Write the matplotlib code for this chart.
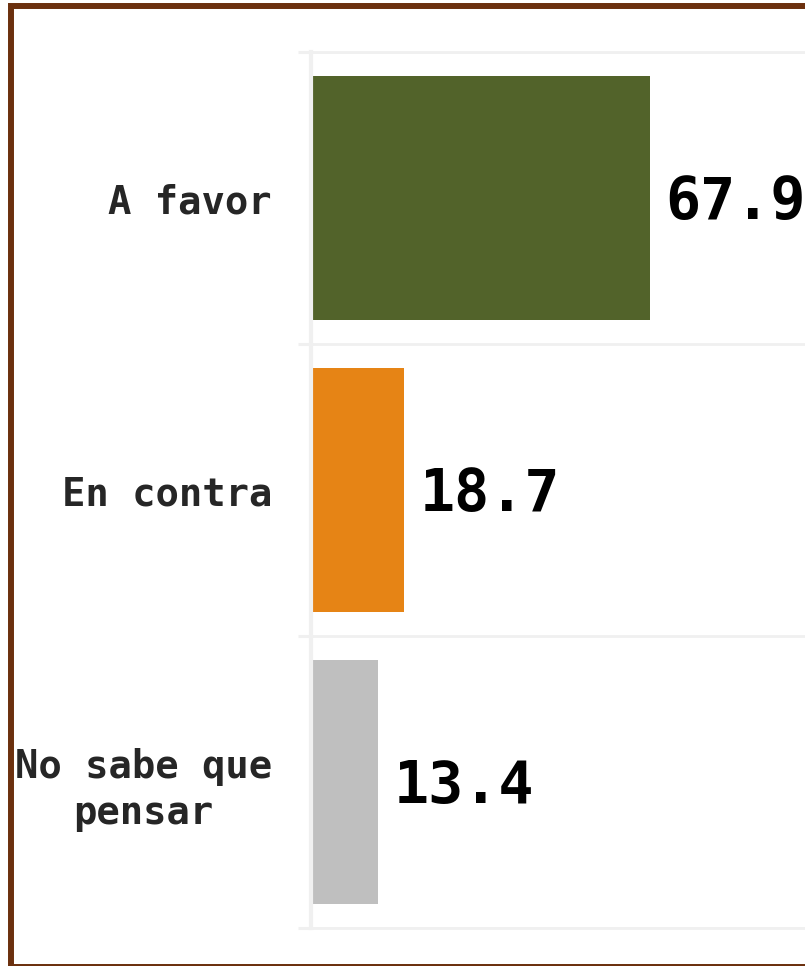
import matplotlib.pyplot as plt
from matplotlib.patches import Rectangle
import numpy as np

categories = ["A favor", "En contra", "No sabe que\npensar"]
values = [67.9, 18.7, 13.4]
bar_colors = ["#52632a", "#e68415", "#bfbfbf"]

W, H = 805, 966
fig = plt.figure(figsize=(W / 100, H / 100), dpi=100)
fig.patch.set_facecolor("white")

# brown frame, right side runs off the canvas like the original crop
fig.patches.append(Rectangle((10.5 / W, 1 - 966.5 / H), 820 / W, (966.5 - 5.5) / H,
                             transform=fig.transFigure, fill=False,
                             edgecolor="#6b300e", linewidth=4.3, zorder=0))

ax = fig.add_axes([311 / W, 38 / H, 499 / W, 876 / H])
ypos = np.arange(len(categories))
ax.barh(ypos, values, height=0.835, color=bar_colors, zorder=2)
ax.set_xlim(0, 100)
ax.set_ylim(len(categories) - 0.5, -0.5)

grid_col = "#f0f0f0"
for side in ["top", "bottom", "left"]:
    ax.spines[side].set_color(grid_col)
    ax.spines[side].set_linewidth(2)
ax.spines["left"].set_linewidth(3)
ax.spines["left"].set_zorder(3)
ax.spines["right"].set_visible(False)

ax.set_xticks([])
ax.set_yticks(ypos)
ax.set_yticklabels(categories, family="DejaVu Sans Mono", fontweight="bold",
                   fontsize=28, color="#262626", multialignment="center",
                   linespacing=1.25)
ax.tick_params(axis="y", which="major", length=0, pad=28)
ax.set_yticks(np.arange(-0.5, len(categories), 1.0), minor=True)
ax.tick_params(axis="y", which="minor", length=9.5, width=2.2, color=grid_col)
ax.grid(axis="y", which="minor", color=grid_col, linewidth=2, zorder=1)

for y, v in zip(ypos, values):
    ax.annotate(f"{v:.1f}", xy=(v, y), xytext=(11, -3), textcoords="offset points",
                va="center", ha="left", family="DejaVu Sans Mono",
                fontweight="bold", fontsize=42, color="black", annotation_clip=False)

fig.savefig("out.png", dpi=100)
